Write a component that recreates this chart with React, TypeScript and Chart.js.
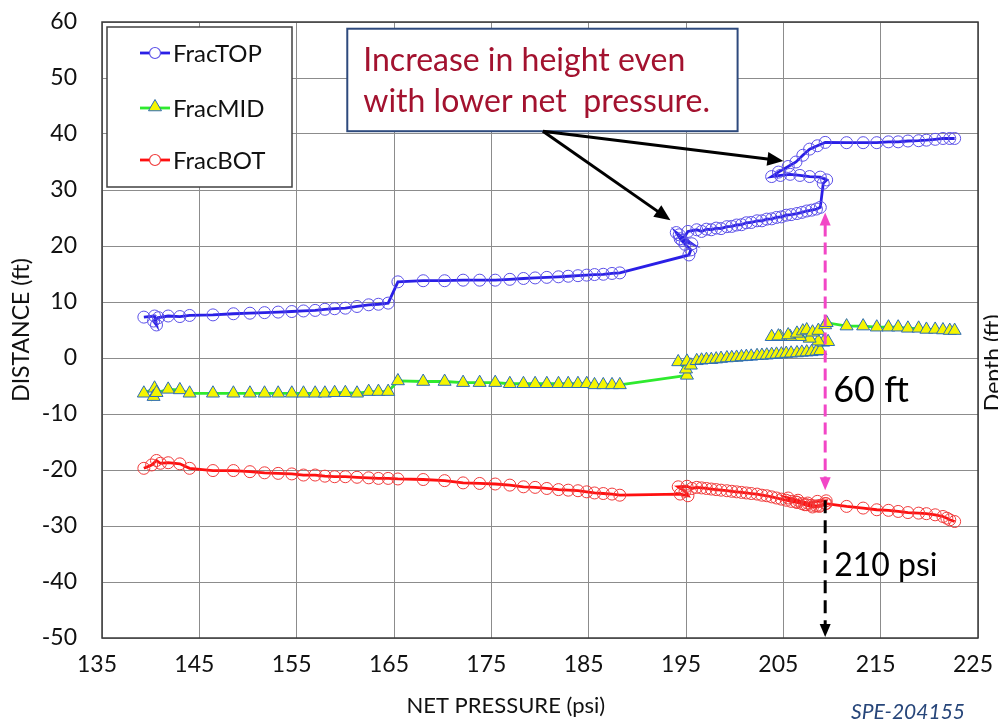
import React, { useEffect, useRef } from "react";
import { Chart, registerables } from "chart.js";

Chart.register(...registerables);

const FONT = "Lato, 'Open Sans', sans-serif";

// Axis ranges
const X_MIN = 135;
const X_MAX = 225;
const X_STEP = 10;
const Y_MIN = -50;
const Y_MAX = 60;
const Y_STEP = 10;
const X_TITLE = "NET PRESSURE (psi)";
const Y_TITLE = "DISTANCE (ft)";

// FracTOP: net pressure (psi) vs distance (ft)
const TOP_X = [
  139.3, 140.4, 140.6, 140.3, 140.8, 141.8, 143.0, 144.0, 146.4, 148.5, 150.2, 151.7, 153.1, 154.5, 155.7,
  156.9, 157.9, 158.9, 160.0, 161.2, 162.4, 163.4, 164.4, 165.4, 168.0, 170.2, 172.1, 173.8, 175.4, 176.9,
  178.3, 179.5, 180.7, 181.9, 182.9, 183.9, 184.8, 185.6, 186.5, 187.4, 188.2,
  195.3, 195.5, 194.9, 194.4, 194.0, 194.3, 195.6, 194.6, 195.2,
  196.1, 196.6, 197.1, 197.6, 198.1, 198.6, 199.2, 199.7, 200.2, 200.7, 201.2, 201.7, 202.3, 202.8, 203.3,
  203.8, 204.3, 204.8, 205.3, 205.8, 206.4, 206.9, 207.4, 207.9, 208.4, 208.8,
  209.1, 209.45, 208.8, 207.7, 206.7, 205.7, 204.7, 203.8, 204.5, 205.5, 206.3, 207.0, 207.7, 208.5, 209.3,
  211.5, 213.2, 214.6, 215.8, 216.8, 217.8, 218.9, 219.7, 220.6, 221.4, 222.1, 222.6,
];
const TOP_Y = [
  7.3, 7.5, 5.9, 6.6, 7.2, 7.5, 7.4, 7.6, 7.7, 7.9, 8.0, 8.1, 8.2, 8.3, 8.4,
  8.5, 8.7, 8.8, 8.9, 9.2, 9.5, 9.6, 9.8, 13.6, 13.8, 13.8, 13.9, 13.9, 13.9, 14.05,
  14.2, 14.3, 14.4, 14.5, 14.6, 14.7, 14.8, 14.9, 14.95, 15.1, 15.2,
  18.4, 19.3, 20.3, 21.3, 22.4, 22.0, 20.4, 21.0, 22.6,
  22.9, 22.6, 23.0, 22.9, 23.2, 23.1, 23.45, 23.5, 23.75, 23.8, 24.15, 24.2, 24.5, 24.5, 24.8,
  24.85, 25.1, 25.2, 25.5, 25.6, 25.8, 26.0, 26.25, 26.4, 26.6, 26.9,
  31.2, 31.8, 32.3, 32.4, 32.6, 32.8, 32.6, 32.4, 33.2, 34.2, 35.0, 36.2, 37.3, 37.9, 38.5,
  38.45, 38.45, 38.45, 38.6, 38.6, 38.75, 38.8, 38.9, 39.05, 39.2, 39.2, 39.2,
];

// FracMID
const MID_X = [
  139.3, 140.4, 140.3, 140.6, 141.8, 143.0, 144.0, 146.4, 148.5, 150.2, 151.7, 153.1, 154.5, 155.7, 156.9,
  157.9, 158.9, 160.0, 161.2, 162.4, 163.4, 164.4, 165.4, 168.0, 170.2, 172.1, 173.8, 175.4, 176.9, 178.3,
  179.5, 180.7, 181.9, 182.9, 183.9, 184.8, 185.6, 186.5, 187.4, 188.2,
  195.1, 195.0, 194.2, 195.1, 195.5,
  196.1, 196.6, 197.1, 197.6, 198.1, 198.6, 199.2, 199.7, 200.2, 200.7, 201.2, 201.7, 202.3, 202.8, 203.3,
  203.8, 204.3, 204.8, 205.3, 205.8, 206.4, 206.9, 207.4, 207.9, 208.4, 208.8,
  209.1, 209.6, 208.6, 207.7, 206.7, 205.7, 204.7, 203.8, 204.5, 205.5, 206.4, 207.0, 207.4, 208.0, 208.6,
  209.3, 209.45,
  211.5, 213.2, 214.6, 215.8, 216.8, 217.8, 218.9, 219.7, 220.6, 221.4, 222.1, 222.6,
];
const MID_Y = [
  -6.3, -5.4, -6.9, -6.2, -5.6, -5.7, -6.3, -6.3, -6.3, -6.3, -6.3, -6.3, -6.3, -6.3, -6.3,
  -6.3, -6.2, -6.2, -6.3, -6.0, -6.0, -6.0, -4.1, -4.2, -4.2, -4.4, -4.4, -4.4, -4.6, -4.6,
  -4.6, -4.6, -4.6, -4.6, -4.6, -4.6, -4.8, -4.8, -4.8, -4.8,
  -3.1, -2.0, -0.7, -0.6, -1.3,
  -0.5, -0.4, -0.3, -0.3, -0.2, -0.1, 0.0, 0.05, 0.1, 0.2, 0.25, 0.3, 0.4, 0.45, 0.5,
  0.6, 0.65, 0.7, 0.8, 0.85, 0.9, 1.0, 1.05, 1.1, 1.2, 1.3,
  2.8, 2.9, 3.0, 3.5, 3.8, 3.8, 3.8, 3.8, 3.9, 4.1, 4.4, 4.8, 5.0, 4.6, 4.9,
  5.9, 6.3,
  5.7, 5.7, 5.5, 5.5, 5.5, 5.3, 5.3, 5.1, 5.1, 5.0, 4.9, 4.9,
];

// FracBOT
const BOT_X = [
  139.3, 140.1, 140.6, 141.0, 141.8, 143.0, 144.0, 146.4, 148.5, 150.2, 151.7, 153.1, 154.5, 155.7, 156.9,
  157.9, 158.9, 160.0, 161.2, 162.4, 163.4, 164.4, 165.4, 168.0, 170.2, 172.1, 173.8, 175.4, 176.9, 178.3,
  179.5, 180.7, 181.9, 182.9, 183.9, 184.8, 185.6, 186.5, 187.4, 188.2,
  194.4, 195.2, 194.9, 194.2, 195.1, 195.6,
  196.1, 196.6, 197.1, 197.6, 198.1, 198.6, 199.2, 199.7, 200.2, 200.7, 201.2, 201.7, 202.3, 202.8, 203.3,
  203.8, 204.3, 204.8, 205.3, 205.8, 206.4, 206.9, 207.4, 207.9, 208.4, 208.8,
  209.3, 209.4, 208.5, 207.5, 206.5, 205.5, 206.3, 207.2, 208.0, 208.7, 209.4,
  211.5, 213.2, 214.6, 215.8, 216.8, 217.8, 218.9, 219.7, 220.6, 221.4, 221.8, 222.1, 222.6,
];
const BOT_Y = [
  -19.7, -19.1, -18.3, -18.8, -18.7, -18.9, -19.7, -20.1, -20.1, -20.3, -20.5, -20.6, -20.7, -20.9, -20.9,
  -21.1, -21.2, -21.2, -21.3, -21.4, -21.5, -21.5, -21.6, -21.7, -21.9, -22.3, -22.4, -22.5, -22.7, -23.0,
  -23.1, -23.3, -23.5, -23.6, -23.7, -23.9, -24.1, -24.2, -24.3, -24.5,
  -24.3, -24.6, -23.8, -23.0, -22.9, -23.3,
  -23.1, -23.2, -23.3, -23.4, -23.5, -23.6, -23.7, -23.8, -23.9, -24.0, -24.1, -24.2, -24.3, -24.5, -24.6,
  -24.8, -25.0, -25.2, -25.4, -25.6, -25.8, -26.0, -26.2, -26.3, -26.4, -26.3,
  -26.0, -25.5, -25.6, -25.9, -25.4, -25.0, -25.7, -26.2, -26.6, -26.5, -26.0,
  -26.5, -26.8, -27.1, -27.2, -27.4, -27.6, -27.7, -27.8, -28.0, -28.3, -28.6, -28.9, -29.2,
];

const SERIES_NAMES = ["FracTOP", "FracMID", "FracBOT"];

// Callout and guide annotations (data units)
const CALLOUT_LINES = ["Increase in height even", "with lower net  pressure."];
const CALLOUT_BOX = { x0: 160.2, x1: 200.3, yTop: 58.8, yBottom: 40.5 };
const CALLOUT_ORIGIN = { x: 180.3, y: 40.5 };
const CALLOUT_TIPS = [
  { x: 205.0, y: 35.2 },
  { x: 193.4, y: 24.6 },
];
const GUIDE_X = 209.3;
const HEIGHT_SPAN = { top: 26.0, bottom: -23.6 };
const PRESSURE_DROP = { top: -25.4, bottom: -49.8 };
const HEIGHT_LABEL = "60 ft";
const PRESSURE_LABEL = "210 psi";

function pair(xs: number[], ys: number[]) {
  return xs.map((x, i) => ({ x, y: ys[i] }));
}

function arrowHead(ctx: CanvasRenderingContext2D, fx: number, fy: number, tx: number, ty: number, len: number, half: number) {
  const ang = Math.atan2(ty - fy, tx - fx);
  ctx.beginPath();
  ctx.moveTo(tx, ty);
  ctx.lineTo(tx - len * Math.cos(ang) + half * Math.sin(ang), ty - len * Math.sin(ang) - half * Math.cos(ang));
  ctx.lineTo(tx - len * Math.cos(ang) - half * Math.sin(ang), ty - len * Math.sin(ang) + half * Math.cos(ang));
  ctx.closePath();
  ctx.fill();
}

function drawTriangle(ctx: CanvasRenderingContext2D, cx: number, cy: number, r: number) {
  ctx.beginPath();
  ctx.moveTo(cx, cy - r);
  ctx.lineTo(cx + r * 0.866, cy + r * 0.5);
  ctx.lineTo(cx - r * 0.866, cy + r * 0.5);
  ctx.closePath();
}

const TOP_LINE = "#2A1FE6";
const TOP_MARK = "#5B50E8";
const MID_LINE = "#2EEA2E";
const MID_FILL = "#F5F500";
const MID_EDGE = "#2C6CB8";
const BOT_LINE = "#FF1010";
const BOT_MARK = "#F03A3A";

const overlay = {
  id: "overlay",
  afterDraw(chart: any) {
    const { ctx, chartArea: a, scales } = chart;
    const sx = (v: number) => scales.x.getPixelForValue(v);
    const sy = (v: number) => scales.y.getPixelForValue(v);
    ctx.save();

    // plot frame
    ctx.strokeStyle = "#3a3a3a";
    ctx.lineWidth = 1.5;
    ctx.strokeRect(a.left, a.top, a.right - a.left, a.bottom - a.top);

    // x axis title, set slightly left of the plot centre
    ctx.fillStyle = "#111111";
    ctx.font = `22px ${FONT}`;
    ctx.textAlign = "center";
    ctx.textBaseline = "middle";
    ctx.fillText(X_TITLE, a.left + (a.right - a.left) * 0.461, 706);

    // legend
    const lx = a.left + 5;
    const ly = a.top + 5;
    ctx.fillStyle = "#ffffff";
    ctx.fillRect(lx, ly, 185, 160);
    ctx.strokeStyle = "#404040";
    ctx.lineWidth = 1.5;
    ctx.strokeRect(lx, ly, 185, 160);
    const rows = [
      { name: SERIES_NAMES[0], line: TOP_LINE, y: ly + 26 },
      { name: SERIES_NAMES[1], line: MID_LINE, y: ly + 81 },
      { name: SERIES_NAMES[2], line: BOT_LINE, y: ly + 133 },
    ];
    ctx.font = `24px ${FONT}`;
    ctx.textBaseline = "middle";
    ctx.textAlign = "left";
    rows.forEach((r, i) => {
      ctx.strokeStyle = r.line;
      ctx.lineWidth = 2.8;
      ctx.beginPath();
      ctx.moveTo(lx + 33, r.y);
      ctx.lineTo(lx + 63, r.y);
      ctx.stroke();
      const cx = lx + 48;
      if (i === 1) {
        drawTriangle(ctx, cx, r.y - 1, 7.5);
        ctx.fillStyle = MID_FILL;
        ctx.fill();
        ctx.strokeStyle = MID_EDGE;
        ctx.lineWidth = 1;
        ctx.stroke();
      } else {
        ctx.beginPath();
        ctx.arc(cx, r.y, 5.5, 0, Math.PI * 2);
        ctx.fillStyle = "#ffffff";
        ctx.fill();
        ctx.strokeStyle = i === 0 ? TOP_MARK : BOT_MARK;
        ctx.lineWidth = 1.2;
        ctx.stroke();
      }
      ctx.fillStyle = "#111111";
      ctx.fillText(r.name, lx + 66, r.y + 1);
    });

    // callout box
    const bx0 = sx(CALLOUT_BOX.x0);
    const bx1 = sx(CALLOUT_BOX.x1);
    const by0 = sy(CALLOUT_BOX.yTop);
    const by1 = sy(CALLOUT_BOX.yBottom);
    ctx.fillStyle = "#ffffff";
    ctx.fillRect(bx0, by0, bx1 - bx0, by1 - by0);
    ctx.strokeStyle = "#2E4A7D";
    ctx.lineWidth = 2;
    ctx.strokeRect(bx0, by0, bx1 - bx0, by1 - by0);
    ctx.fillStyle = "#A3122F";
    ctx.font = `32px ${FONT}`;
    ctx.textBaseline = "alphabetic";
    ctx.fillText(CALLOUT_LINES[0], bx0 + 16, by0 + 42);
    ctx.fillText(CALLOUT_LINES[1], bx0 + 16, by0 + 83);

    // callout arrows
    const ox = sx(CALLOUT_ORIGIN.x);
    const oy = sy(CALLOUT_ORIGIN.y);
    ctx.strokeStyle = "#000000";
    ctx.fillStyle = "#000000";
    ctx.lineWidth = 3;
    CALLOUT_TIPS.forEach((t) => {
      const tx = sx(t.x);
      const ty = sy(t.y);
      const ang = Math.atan2(ty - oy, tx - ox);
      ctx.beginPath();
      ctx.moveTo(ox, oy);
      ctx.lineTo(tx - 12 * Math.cos(ang), ty - 12 * Math.sin(ang));
      ctx.stroke();
      arrowHead(ctx, ox, oy, tx, ty, 16, 7);
    });

    // height guide (pink, double headed)
    const gx = sx(GUIDE_X);
    const hTop = sy(HEIGHT_SPAN.top);
    const hBot = sy(HEIGHT_SPAN.bottom);
    ctx.strokeStyle = "#F246C6";
    ctx.fillStyle = "#F246C6";
    ctx.lineWidth = 3;
    ctx.setLineDash([12, 6]);
    ctx.beginPath();
    ctx.moveTo(gx, hTop + 12);
    ctx.lineTo(gx, hBot - 12);
    ctx.stroke();
    ctx.setLineDash([]);
    arrowHead(ctx, gx, hBot, gx, hTop, 13, 5.5);
    arrowHead(ctx, gx, hTop, gx, hBot, 13, 5.5);

    // pressure guide (black, down arrow)
    const pTop = sy(PRESSURE_DROP.top);
    const pBot = sy(PRESSURE_DROP.bottom);
    ctx.strokeStyle = "#000000";
    ctx.fillStyle = "#000000";
    ctx.setLineDash([13, 7]);
    ctx.beginPath();
    ctx.moveTo(gx, pTop);
    ctx.lineTo(gx, pBot - 12);
    ctx.stroke();
    ctx.setLineDash([]);
    arrowHead(ctx, gx, pTop, gx, pBot, 13, 5.5);

    // guide labels
    ctx.fillStyle = "#000000";
    ctx.textAlign = "left";
    ctx.textBaseline = "alphabetic";
    ctx.font = `36px ${FONT}`;
    ctx.fillText(HEIGHT_LABEL, gx + 8, sy(-7.9));
    ctx.font = `32px ${FONT}`;
    ctx.fillText(PRESSURE_LABEL, gx + 9, sy(-38.9));

    // secondary axis title (clipped at canvas edge)
    ctx.save();
    ctx.translate(a.right + 4, sy(-9.5));
    ctx.rotate(-Math.PI / 2);
    ctx.textBaseline = "top";
    ctx.font = `23px ${FONT}`;
    ctx.fillStyle = "#111111";
    ctx.fillText("Depth (ft)", 0, 0);
    ctx.restore();

    // paper reference
    ctx.font = `italic 21px ${FONT}`;
    ctx.fillStyle = "#27467A";
    ctx.textAlign = "right";
    ctx.fillText("SPE-204155", 965, 719);

    ctx.restore();
  },
};

export default function App() {
  const ref = useRef<HTMLCanvasElement | null>(null);

  useEffect(() => {
    document.body.style.margin = "0";
    const canvas = ref.current;
    if (!canvas) return;
    const chart = new Chart(canvas, {
      type: "scatter",
      data: {
        datasets: [
          {
            label: SERIES_NAMES[0],
            data: pair(TOP_X, TOP_Y),
            showLine: true,
            borderColor: TOP_LINE,
            borderWidth: 2.8,
            pointStyle: "circle",
            pointRadius: 6,
            pointBorderWidth: 1,
            pointBorderColor: TOP_MARK,
            pointBackgroundColor: "rgba(255,255,255,0)",
            tension: 0,
          },
          {
            label: SERIES_NAMES[1],
            data: pair(MID_X, MID_Y),
            showLine: true,
            borderColor: MID_LINE,
            borderWidth: 2.8,
            pointStyle: "triangle",
            pointRadius: 7.5,
            pointBorderWidth: 1,
            pointBorderColor: MID_EDGE,
            pointBackgroundColor: MID_FILL,
            tension: 0,
          },
          {
            label: SERIES_NAMES[2],
            data: pair(BOT_X, BOT_Y),
            showLine: true,
            borderColor: BOT_LINE,
            borderWidth: 2.8,
            pointStyle: "circle",
            pointRadius: 6,
            pointBorderWidth: 1,
            pointBorderColor: BOT_MARK,
            pointBackgroundColor: "rgba(255,255,255,0)",
            tension: 0,
          },
        ],
      },
      options: {
        responsive: false,
        animation: false,
        devicePixelRatio: 1,
        layout: { padding: { left: 0, top: 22, right: 20, bottom: 0 } },
        plugins: {
          legend: { display: false },
          tooltip: { enabled: false },
        },
        scales: {
          x: {
            type: "linear",
            min: X_MIN,
            max: X_MAX,
            afterFit: (s: any) => {
              s.height = 87;
              s.paddingLeft = 0;
              s.paddingRight = 0;
            },
            ticks: {
              stepSize: X_STEP,
              padding: 13,
              labelOffset: -5,
              color: "#111111",
              font: { family: FONT, size: 23 },
              maxRotation: 0,
            },
            grid: { color: "#8c8c8c", lineWidth: 1, drawTicks: false },
            border: { display: false },
            title: { display: false },
          },
          y: {
            type: "linear",
            min: Y_MIN,
            max: Y_MAX,
            afterFit: (s: any) => {
              s.width = 102;
              s.paddingTop = 0;
              s.paddingBottom = 0;
            },
            ticks: {
              stepSize: Y_STEP,
              padding: 25,
              color: "#111111",
              font: { family: FONT, size: 23 },
            },
            grid: { color: "#8c8c8c", lineWidth: 1, drawTicks: false },
            border: { display: false },
            title: {
              display: true,
              text: Y_TITLE,
              color: "#111111",
              font: { family: FONT, size: 23 },
              padding: { top: 8, bottom: 0 },
            },
          },
        },
      },
      plugins: [overlay],
    });
    return () => chart.destroy();
  }, []);

  return (
    <div style={{ width: 998, height: 725, background: "#ffffff" }}>
      <canvas ref={ref} width={998} height={725} style={{ display: "block" }} />
    </div>
  );
}
